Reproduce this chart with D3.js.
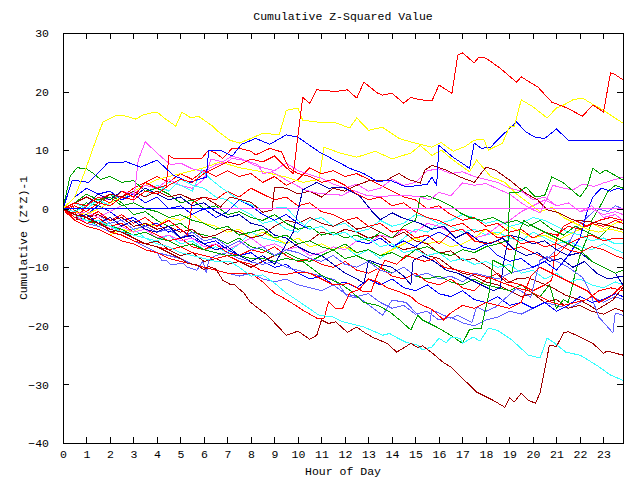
<!DOCTYPE html>
<html><head><meta charset="utf-8">
<script src="https://cdn.jsdelivr.net/npm/d3@7"></script>
<style>body{margin:0;background:#fff}svg{display:block}</style>
</head><body>
<svg id="c" width="640" height="480"></svg>
<script>
// ---------- data ----------
const hourTicks = d3.range(0, 24);
const valueTicks = [30, 20, 10, 0, -10, -20, -30, -40];
const hourMax = 23.83;

const redTop = [[0,0],[0.5,0.5],[1,-0.5],[1.5,1],[2,0.5],[2.5,2],[3,1.5],[3.5,3],[4,2.5],[4.5,4],[5,5],[5.5,4.5],[6,6],[6.5,7],[7,8],[7.5,7.5],[8,8.5],[8.5,8],[9,9],[9.5,7],[9.8,6],[10.2,19],[10.5,18],[10.8,20.3],[11.6,20],[12.1,20.3],[12.5,18.9],[12.8,21.6],[13.4,19.7],[13.6,19.4],[14,19.7],[14.5,18],[14.8,19],[15.2,18.6],[15.7,18.4],[16,21.1],[16.55,19.7],[16.8,26.2],[17,26.6],[17.5,24.9],[17.7,25.9],[18,25.7],[18.6,24],[19.3,21.6],[19.5,22.5],[20.2,20.8],[20.8,18.2],[21.45,17.2],[22.1,15.8],[22.55,17.7],[23,16.5],[23.3,23.2],[23.5,22.9],[23.83,22]];
const redLowA = [[0,0],[0.5,-1.5],[1,-2.5],[1.5,-2],[2,-4],[2.5,-4.5],[3,-5.5],[3.5,-6],[4,-6.5],[4.5,-7],[5,-6.5],[5.5,-7.5],[6,-8],[6.5,-8.5],[7,-8],[7.5,-9],[8,-9.5],[8.4,-10.5],[8.7,-10.8],[9.4,-11.3],[10,-10.8],[10.5,-11],[10.9,-11.8],[11.5,-13],[12.2,-12.8],[12.8,-14.2],[13.1,-14.2],[13.4,-11],[13.7,-8.8],[14.2,-9.5],[14.6,-8],[15,-8.5],[15.4,-9],[15.8,-8.5],[16.2,-10],[16.8,-10.5],[17.3,-11],[17.8,-11.5],[18.3,-12],[18.8,-12.8],[19.3,-13.5],[19.8,-14],[20.3,-15],[20.8,-16],[21.3,-16.5],[21.8,-16],[22.3,-15.5],[22.8,-14],[23.3,-13.5],[23.83,-14]];
const redLowB = [[0,0],[0.5,-2],[1,-3],[1.5,-3.5],[2,-4.5],[2.5,-5.5],[3,-6],[3.5,-7],[4,-7.5],[4.5,-8.5],[5,-9],[5.5,-9.5],[6,-10],[6.5,-10.5],[7,-11],[7.5,-11],[8,-11],[8.5,-12.5],[9,-14.4],[9.5,-15.5],[10.2,-17.3],[10.8,-18.7],[11.1,-18.8],[11.3,-15.9],[11.6,-17],[11.9,-17],[12.2,-14.4],[12.6,-13.8],[13,-12],[13.4,-12.5],[13.8,-13.5],[14.2,-14],[14.8,-15],[15.1,-16.1],[15.7,-17.2],[16.2,-19],[16.5,-17.8],[17,-16.5],[17.5,-17],[18,-16],[18.5,-16.5],[19,-17],[19.5,-16],[19.9,-11.5],[20.3,-10],[20.8,-11],[21.3,-12],[21.8,-13],[22.3,-14],[22.8,-16],[23.3,-15],[23.83,-13]];
const redMidA = [[0,0],[0.5,1],[1,0.5],[1.5,2],[2,1],[2.5,3],[3,2],[3.5,4.5],[4,3.5],[4.4,4],[4.5,9.1],[4.7,8.6],[5,8.5],[5.5,8.6],[5.9,8.6],[6.2,10],[6.5,9.5],[6.8,8.6],[7.2,10.3],[7.5,10.3],[8,9.8],[8.2,9.2],[8.8,10.3],[9.3,9.7],[9.6,7],[10,6],[10.5,5.5],[11,4.5],[11.5,5],[12,4],[12.5,2.5],[13,1.5],[13.5,2],[14,0.5],[14.5,1],[15,-0.5],[15.5,-1.5],[16,-2],[16.5,-3],[17,-2.5],[17.5,-4],[18,-3.5],[18.5,-5],[19,-4.5],[19.5,-6],[20,-5.5],[20.5,-6.5],[21,-6],[21.5,-7],[22,-7.5],[22.5,-6.5],[23,-7],[23.5,-8],[23.83,-8.5]];
const redMidB = [[0,0],[0.3,-0.8],[0.6,-0.5],[1,-1.5],[1.5,-0.5],[2,-2],[2.5,-1],[3,-2.5],[3.5,-1.5],[4,-3],[4.5,-2],[5,-3.5],[5.3,-4.5],[5.5,1],[6,2],[6.5,1.5],[7,3],[7.5,2],[8,3.5],[8.5,2.5],[9,1.5],[9.5,2],[10,0.5],[10.5,1],[11,-0.5],[11.5,-1],[12,-2],[12.5,-1.5],[13,-3],[13.5,-2.5],[14,-4],[14.5,-3.5],[15,-5],[15.5,-4.5],[16,-6],[16.5,-4],[17,-3.5],[17.5,-5.5],[18,-6],[18.5,-5.5],[19,-7],[19.5,-6.5],[20,-7.5],[20.5,-8.5],[21,-8],[21.5,-6],[22,-5],[22.5,-4.5],[23,-5.5],[23.5,-5],[23.83,-5]];
const redMidC = [[0,0],[0.5,-1],[1,-2],[1.5,-1.5],[2,-3],[2.5,-2.5],[3,-4],[3.5,-3.5],[4,-4.5],[4.5,-5.5],[5,-5],[5.5,-6.5],[6,-7],[6.5,-6],[7,-7.5],[7.5,-8],[8,-7],[8.5,-7.5],[9,-6.5],[9.5,-8],[10,-9],[10.5,-8.5],[11,-9.5],[11.5,-10],[12,-9],[12.5,-10.5],[13,-11],[13.5,-10],[14,-11.5],[14.5,-12],[15,-11],[15.5,-12.5],[16,-13],[16.5,-12],[17,-13.5],[17.5,-14],[18,-12],[18.5,-11],[19,-12.5],[19.5,-13],[20,-14],[20.5,-13],[20.8,-12.2],[21,-5],[21.3,-3],[21.8,-2],[22.3,-3],[22.8,-2],[23.3,-1.5],[23.83,-2]];
const redMidD = [[0,0],[0.2,-1],[0.4,0.5],[0.6,-1.5],[1,0.5],[1.5,1.5],[2,2.5],[2.5,2],[3,3.5],[3.5,4.5],[4,5.5],[4.5,4.5],[5,6],[5.5,5],[6,6.5],[6.5,5.5],[7,6.5],[7.5,5.5],[8,6],[8.5,4.5],[9,5.5],[9.5,4],[10,5],[10.5,7],[11,6],[11.5,6.5],[12,5.5],[12.5,6],[13,5],[13.5,4],[14,3],[14.5,2],[15,1.5],[15.5,0],[16,0.5],[16.5,-1],[17,-2],[17.5,-1.5],[18,-3],[18.5,-2.5],[19,-4],[19.5,-3.5],[20,-5],[20.5,-4],[21,-4.5],[21.5,-3],[22,-3.5],[22.5,-2.5],[23,-3],[23.5,-2],[23.83,-2.5]];

const yellowTop = [[0,0],[0.5,2],[0.9,6],[1.1,8.3],[1.4,11.7],[1.7,14.8],[2.3,16],[2.7,15.8],[3.1,15.3],[3.4,16],[3.7,16.3],[4,16.5],[4.3,15.5],[4.8,14.1],[5.06,16.5],[5.4,15.6],[5.8,15.7],[6.4,14],[6.6,13.2],[7.1,11.7],[7.5,11.2],[8,12],[8.5,12.9],[9.2,12.6],[9.5,16.8],[10,17.2],[10.2,15.1],[10.8,14.8],[11.5,14.8],[12.2,13.8],[12.5,15.5],[13,13.4],[13.6,13.9],[14.3,12],[14.8,11.4],[15.2,11],[15.7,10.5],[16.1,11.3],[16.6,9.8],[17.1,10.6],[17.5,11.7],[17.9,11.9],[18.1,10],[18.7,11.2],[19,14],[19.2,14],[19.5,18.6],[20,17.4],[20.6,15.5],[21,17.2],[21.3,17.7],[21.7,18.6],[22.1,18.9],[22.6,17.7],[23,16.8],[23.3,16],[23.83,14.6]];
const yellowMid = [[0,0],[1,-1],[2,1],[3,3],[4,5],[5,6],[6,7],[6.7,8],[7.5,7],[8.5,6.3],[9.5,5.4],[10.2,4.5],[10.9,5],[11.1,10.5],[11.8,9.5],[12.5,8.8],[13.3,9.8],[14,8.5],[14.8,9.5],[15.2,10.8],[15.7,9.1],[16.1,10],[16.6,8.3],[17.3,6.3],[17.6,8.3],[18.2,5.5],[18.8,4.5],[19.3,2.5],[19.8,1],[20.3,-0.5],[20.8,0.2],[21.3,-1.5],[21.8,-2.5],[22.3,-3.5],[22.8,-4],[23.3,-3.5],[23.83,-4]];
const yellowLow = [[0,0],[0.5,-2],[1,-3],[1.5,-3.5],[2,-4.5],[2.5,-3.5],[3,-4],[3.5,-2.5],[4,-3],[4.5,-1.5],[5,-2],[5.5,-1],[6,-2.5],[6.5,-3],[7,-4],[7.5,-3.5],[8,-5],[8.5,-4],[9,-5],[9.5,-6],[10,-5],[10.5,-6.5],[11,-6],[11.5,-7],[12,-6.5],[12.5,-7.5],[13,-7],[13.5,-8],[14,-7],[14.5,-6],[15,-5],[15.5,-6],[16,-5.5],[16.5,-6.5],[17,-6],[17.5,-5],[18,-3.5],[18.5,-4.5],[19,-3],[19.5,-4],[20,-5],[20.5,-4.5],[21,-5.5],[21.5,-4.5],[22,-3.5],[22.5,-2.5],[23,-3.5],[23.5,-2.5],[23.83,-2]];

const greenEarly = [[0,0],[0.3,5.5],[0.6,7],[1,6.8],[1.3,6],[1.6,5],[2,5.5],[2.5,4.5],[3,4.8],[3.5,3],[4,3.5],[4.5,2.5],[5,1],[5.5,1.5],[6,0],[6.5,0.5],[7,-1],[7.5,-0.5],[8,-1.5],[8.5,-2],[9,-1],[9.5,-2.5],[10,-3.5],[10.5,-3],[11,-4.5],[11.5,-4],[12,-5],[12.5,-4.5],[13,-5.5],[13.5,-4],[14,-5],[14.5,-3],[15,-2],[15.2,2],[15.5,2.2],[16,1.5],[16.5,0.5],[16.9,-0.7],[17.3,-1.5],[17.8,-2],[18.3,-1.5],[18.8,-2.5],[19.3,-2],[19.8,-3],[20.3,-2],[20.8,-3.5],[21.3,-4.5],[21.8,-3],[22.3,-4],[22.8,-5],[23.3,-3],[23.83,-3.5]];
const greenLow = [[0,0],[0.5,-1],[1,-2],[1.5,-2.5],[2,-3],[2.5,-3.5],[3,-4.5],[3.5,-4],[4,-5],[4.5,-5.5],[5,-6.5],[5.5,-6],[6,-7],[6.5,-7.5],[7,-8],[7.5,-8],[8,-8.5],[8.5,-8.5],[9,-9],[9.5,-8.5],[10.2,-9],[11,-11.4],[11.8,-12.8],[12.2,-13.9],[12.8,-16],[13.4,-16.5],[13.9,-17.6],[14.3,-18.9],[14.8,-20.7],[15.1,-18.2],[15.3,-19],[15.9,-20.2],[16.5,-21.6],[17,-23],[17.3,-20.6],[17.8,-20.4],[18.15,-14],[18.3,-8.8],[18.7,-9.6],[19.1,-11],[19.3,-6.5],[19.45,-3.6],[19.6,-2],[20,-3],[20.5,-4],[21,-5],[21.5,-6],[22,-7],[22.5,-9],[23,-10],[23.5,-11],[23.83,-10.5]];
const greenJump = [[0,0],[0.5,1],[1,2.5],[1.5,1.5],[2,2],[2.5,0.5],[3,1],[3.5,0],[4,-0.5],[4.5,-1.5],[5,-1],[5.5,-2],[6,-2.5],[6.5,-3.5],[7,-3],[7.5,-4.5],[8,-4],[8.5,-3.5],[9,-5],[9.5,-4.5],[10,-6],[10.5,-5.5],[11,-6.5],[11.5,-7],[12,-6],[12.5,-7.5],[13,-7],[13.5,-8],[14,-7.5],[14.5,-8.5],[15,-7],[15.5,-6.5],[16,-7.5],[16.5,-8],[17,-7],[17.5,-7.5],[18,-6.5],[18.5,-6],[18.95,-5.4],[19,2.8],[19.4,2.8],[19.7,3.7],[20.1,2],[20.5,2.3],[20.8,5.4],[21.3,4.4],[22,2],[22.3,3.7],[22.55,6.9],[22.85,6],[23.1,6.6],[23.83,4.9]];
const greenLate = [[0,0],[0.5,-0.5],[1,1],[1.5,0.5],[2,2.5],[2.5,1],[3,-1],[3.5,-0.5],[4,-2],[4.5,-3],[5,-2.5],[5.5,-4],[6,-4.5],[6.5,-5],[7,-6],[7.5,-5],[8,-6.5],[8.5,-7],[9,-8],[9.5,-7.5],[10,-8.5],[10.5,-9],[11,-8],[11.5,-7],[12,-8.5],[12.5,-8],[13,-9],[13.5,-10],[14,-11],[14.5,-10],[15,-11.5],[15.5,-12],[16,-11.5],[16.5,-12.5],[17,-13],[17.5,-12],[18,-13],[18.5,-13.5],[19,-14],[19.5,-13],[20,-14.5],[20.3,-15],[20.7,-13],[21,-17],[21.3,-15.5],[21.5,-16],[21.8,-11],[22,-8],[22.3,-5],[22.5,-2],[22.8,0],[23.2,3],[23.5,4],[23.83,3.5]];

const blueHigh = [[0,0],[0.4,4.9],[1.1,4.5],[1.9,7.8],[2.7,8],[3.3,7.1],[4,8.3],[4.7,5.7],[5.4,4.5],[6.1,5.4],[6.2,10],[6.7,10],[7.2,9],[7.6,11],[8.2,12],[8.8,11],[9.5,12.6],[10,12.2],[10.9,9.7],[12.2,6.9],[12.8,6],[13.4,4.6],[13.9,4.9],[14.6,3.7],[15.2,4],[15.5,4.2],[15.7,5.4],[15.9,4],[16,10.8],[16.6,8.8],[17.3,6.9],[17.5,11.2],[17.8,10.3],[18.2,10.5],[18.6,12.2],[19.3,14.8],[19.7,13.1],[20.1,12.2],[20.5,12],[21,13.6],[21.5,11.7],[23.83,11.7]];
const blueRise = [[0,0],[0.5,-1.5],[1,-1],[1.5,-2.5],[2,-1.5],[2.5,-3],[3,-2],[3.5,-3.5],[4,-4],[4.5,-3],[5,-5],[5.5,-4.5],[6,-6],[6.5,-7],[7,-6.5],[7.5,-8],[8,-9],[8.5,-8],[9,-9.5],[9.5,-6],[9.8,-4],[10.2,3.2],[10.8,4.5],[11.3,3.5],[11.9,3.7],[12.6,2.3],[13.2,-0.7],[13.5,-1.9],[14,-0.7],[14.4,-1.5],[15.2,-2.5],[15.7,-3.5],[16.2,-3],[16.7,-5],[17.2,-4],[17.7,-5.5],[18.2,-6],[18.7,-5],[19.2,-7],[19.7,-8],[20.2,-7.5],[20.7,-9],[21.2,-8.5],[21.7,-10],[22.2,-9],[22.7,-11],[23.2,-12],[23.83,-11.5]];
const blueDark = [[0,0],[0.5,1],[1,0.5],[1.5,2.5],[2,1.5],[2.5,3],[3,2],[3.5,3.5],[4,2.5],[4.5,1.5],[5,2],[5.5,0.5],[6,1],[6.5,-0.5],[7,-1.5],[7.5,-1],[8,-2.5],[8.5,-3],[9,-4.5],[9.5,-5],[10,-6.5],[10.5,-7.5],[11,-8],[11.5,-9.5],[12,-11],[12.5,-12],[12.8,-12.7],[12.9,-11],[13,-8.8],[13.5,-9.5],[14,-10],[14.5,-11.5],[14.8,-13],[14.9,-8.8],[15.3,-8],[15.8,-9],[16.3,-10.5],[16.8,-11],[17.3,-12],[17.8,-13],[18.3,-14],[18.6,-13.5],[18.8,-8],[19,-4.5],[19.5,-5],[20,-6],[20.5,-5.5],[21,-7],[21.5,-8],[22,-7.5],[22.5,-9],[23,-10],[23.5,-11],[23.83,-13]];
const blueMid = [[0,0],[0.5,2],[1,3.5],[1.5,2.5],[2,3],[2.5,1.5],[3,2.5],[3.5,1],[4,2],[4.5,0],[5,0.5],[5.5,-1],[6,0],[6.5,-1.5],[7,-0.5],[7.5,1.5],[8,0.5],[8.5,-1],[9,-2],[9.5,-1],[10,-2.5],[10.5,-3.5],[11,-3],[11.5,-4.5],[12,-4],[12.5,-5.5],[13,-6],[13.5,-5],[14,-6.5],[14.5,-5.5],[15,-6.5],[15.5,-5],[16,-4],[16.5,-5],[17,-6.5],[17.5,-7],[18,-6],[18.5,-8],[19,-9],[19.5,-8.5],[20,-10],[20.5,-9],[21,-10.5],[21.5,-8],[22,-5],[22.3,-0.5],[22.55,2],[22.9,3.5],[23.3,3],[23.6,3.5],[23.83,3.2]];
const blueLow = [[0,0],[0.5,-0.5],[1,-1],[1.5,0.5],[2,-0.5],[2.5,-2],[3,-1.5],[3.5,-3],[4,-2.5],[4.5,-4],[5,-3.5],[5.5,-5],[6,-6],[6.5,-5.5],[7,-7],[7.5,-8],[8,-7.5],[8.5,-9],[9,-10],[9.5,-9.5],[10,-11],[10.5,-12],[11,-11.5],[11.5,-13],[12,-12.5],[12.5,-13.5],[13,-12],[13.5,-13],[14,-12],[14.5,-13.5],[15,-14],[15.5,-13],[16,-14.5],[16.5,-15],[17,-14],[17.5,-15.5],[18,-16],[18.5,-15],[19,-16.5],[19.5,-16],[20,-17],[20.5,-16],[21,-17.5],[21.5,-16.5],[22,-15],[22.5,-16],[23,-15.5],[23.5,-14.5],[23.83,-15]];
const blueFlat = [[0,0],[6.5,0]];

const magentaFlat = [[0,0],[23.83,0]];
const magentaPeak = [[0,0],[0.5,-1],[1,-0.5],[1.5,-1.5],[2,-0.5],[2.5,0.5],[3,1],[3.2,8.3],[3.5,11.4],[4.25,8.6],[4.6,7.5],[5,7.8],[5.5,6.8],[6,6.3],[6.5,7.5],[7,8],[7.2,8.6],[7.8,8.2],[8.3,7.5],[8.5,6],[8.9,6.3],[9.5,4.9],[10.3,3.2],[10.9,2.6],[11.9,2.3],[12.3,3.2],[12.9,2.3],[13.6,2],[14,2.3],[14.6,2.3],[15.2,2],[15.6,1.5],[16,2.8],[16.5,2.2],[17,4.4],[17.5,4],[18,4.3],[18.6,3.2],[19,2.5],[19.5,1],[19.9,0],[20.3,-0.7],[20.5,1],[20.85,4],[21.3,3.5],[21.7,3.2],[22.1,4.2],[22.6,3.8],[23,4.4],[23.5,5],[23.83,5.4]];
const magentaHigh = [[0,0],[0.5,1],[1,0.5],[1.5,2],[2,1.5],[2.5,3],[3,2.5],[3.5,4],[4,3.5],[4.5,5],[5,4],[5.5,3.5],[6,5],[6.3,8.5],[6.8,8],[7.2,9],[7.6,8.5],[8.1,7.5],[8.5,7],[9,6.5],[9.5,7.8],[10,6.5],[10.5,5.8],[11,5.2],[11.5,4.2],[12,3.5],[12.5,4.2],[13,3],[13.5,3.5],[14,5],[14.5,4],[15,4.5],[15.5,6.5],[16,6.8],[16.5,6],[17,6.3],[17.5,5.5],[18,5],[18.5,4.5],[19,3.5],[19.5,3],[20,1.5],[20.5,2],[21,0.5],[21.5,1],[22,-0.5],[22.5,0],[23,-1],[23.5,-0.5],[23.83,-1]];
const magentaLow = [[0,0],[0.5,-1],[1,-2.5],[1.5,-2],[2,-3.5],[2.5,-3],[3,-4],[3.5,-3.5],[4,-5],[4.5,-4.5],[5,-5.5],[5.5,-5],[6,-6.5],[6.5,-6],[7,-7],[7.5,-6],[8,-5],[8.5,-6.5],[9,-6],[9.5,-7],[10,-6.5],[10.5,-8],[11,-7.5],[11.5,-6.5],[12,-7],[12.5,-5.5],[13,-6],[13.5,-4.5],[14,-5],[14.5,-3.5],[15,-4],[15.5,-2.5],[16,-3],[16.5,-4],[17,-3.5],[17.5,-5],[18,-4.5],[18.5,-3],[19,-2],[19.5,-0.5],[20,0.5],[20.5,1.5],[21,0.5],[21.5,1],[22,-0.5],[22.5,0.5],[23,-1.5],[23.5,-1],[23.83,-2]];

const cyanBottom = [[0,0],[0.5,-1],[1,-2],[1.5,-2],[2,-3],[2.5,-4],[3,-4.5],[3.5,-5],[4,-6],[4.5,-6.5],[5,-7.5],[5.5,-8],[6,-8.5],[6.5,-9],[7.1,-9],[7.5,-10],[8,-11.5],[8.5,-11.3],[9,-12.7],[9.5,-14.4],[10.1,-16],[10.9,-18.2],[11.5,-18.5],[11.9,-19.3],[12.8,-20.2],[13.1,-20.7],[13.6,-21.6],[13.9,-21.3],[14.2,-22],[14.6,-22.8],[15.1,-23.3],[15.3,-24.1],[15.7,-23.6],[16,-22.1],[16.3,-22.9],[16.5,-22],[16.9,-22.1],[17,-23],[17.45,-21.9],[17.75,-22.6],[18.1,-20.4],[18.5,-20.8],[19.1,-22.4],[19.8,-25],[20.3,-25.5],[20.6,-22.1],[20.9,-22.9],[21.4,-24.5],[22,-25],[22.7,-26.7],[23.3,-28.4],[23.83,-29.3]];
const cyanHigh = [[0,0],[0.5,-0.5],[1,0.5],[1.5,1.5],[2,0.5],[2.5,2],[3,1.5],[3.5,3],[4,2.5],[4.5,4.5],[5,4],[5.5,3],[5.9,6.6],[6.3,5],[6.7,3.7],[7.5,1.5],[8.4,0],[9.5,0.2],[10,-2],[10.5,-3.5],[11,-3],[11.5,-4.5],[12,-4],[12.5,-5.5],[13,-5],[13.5,-6.5],[14,-6],[14.5,-7.5],[15,-7],[15.5,-8],[16,-7.5],[16.5,-9],[17,-8.5],[17.5,-9.5],[18,-9],[18.5,-10],[19,-9.5],[19.5,-11],[20,-10.5],[20.5,-12],[21,-11],[21.5,-12.5],[22,-12],[22.5,-13],[23,-13.5],[23.5,-12.5],[23.83,-13]];
const cyanMidA = [[0,0],[0.5,-1.5],[1,-2],[1.5,-3],[2,-2.5],[2.5,-4],[3,-3.5],[3.5,-5],[4,-5.5],[4.5,-4.5],[5,-6],[5.5,-5.5],[6,-7],[6.5,-6.5],[7,-7.5],[7.5,-6],[8,-4],[8.5,-5],[9,-5.5],[9.5,-6],[10,-5],[10.5,-6.5],[11,-6],[11.5,-7],[12,-6.5],[12.5,-8],[13,-7],[13.5,-8.5],[14,-7],[14.5,-5],[15,-3.5],[15.5,-4],[16,-2.5],[16.5,-3],[17,-4],[17.5,-3.5],[18,-4.5],[18.5,-4],[19,-5],[19.5,-5.5],[20,-4],[20.5,-5],[21,-6],[21.5,-5.5],[22,-6.5],[22.5,-7],[23,-6],[23.5,-7],[23.83,-7.5]];
const cyanMidB = [[0,0],[0.5,1],[1,0],[1.5,1.5],[2,2.5],[2.5,1.5],[3,3],[3.5,2],[4,4],[4.5,3],[5,5],[5.5,4],[6,3.5],[6.5,2],[7,1.5],[7.5,0],[8,-1],[8.5,-2.5],[9,-2],[9.5,-3.5],[10,-4],[10.5,-2],[11,-1.5],[11.5,-3],[12,-2.5],[12.5,-4],[13,-3.5],[13.5,-2],[14,-3],[14.5,-2.5],[15,-1],[15.5,-1.5],[16,-2.5],[16.5,-2],[17,-1],[17.5,-1.5],[18,-2.5],[18.5,-2],[19,-3],[19.5,-2.5],[20,-1.5],[20.5,-2],[21,-3],[21.5,-4],[22,-4.5],[22.5,-5.5],[23,-5],[23.5,-6],[23.83,-6]];

const darkRedBottom = [[0,0],[0.5,-1],[1,-1.5],[1.5,-2.5],[2,-3.5],[2.5,-4],[3,-5],[3.5,-6],[4,-6.5],[4.5,-7.5],[5,-8.5],[5.3,-9.3],[5.7,-9.6],[6,-10.4],[6.2,-9.9],[6.5,-10.3],[6.8,-12.2],[7.1,-12.9],[7.3,-13],[7.7,-14.4],[7.96,-15.9],[8.4,-17.3],[8.7,-18.2],[9.5,-21.6],[10,-20.9],[10.5,-22.3],[10.8,-21.6],[11,-19],[11.3,-19.6],[11.6,-19.3],[12.1,-21.1],[12.5,-20.2],[12.85,-21.2],[13.2,-22],[13.8,-23],[14.2,-24.5],[14.8,-23],[15.1,-23.7],[15.3,-23.4],[15.7,-24.6],[16.2,-26.3],[16.5,-27],[17.6,-31.3],[18.3,-32.7],[18.8,-33.9],[19,-32.3],[19.2,-33],[19.5,-31.5],[19.8,-32.7],[20.1,-33.2],[20.3,-31.5],[20.7,-23.3],[21,-23.5],[21.3,-21.2],[21.5,-21],[21.9,-21.7],[22.55,-23],[23,-24.7],[23.15,-24.3],[23.83,-25]];
const darkRedHigh = [[0,0],[0.5,1],[1,2],[1.5,1],[2,2.5],[2.5,2],[3,3],[3.5,2],[4,3],[4.5,2],[5,2.5],[5.5,1.5],[6,2],[6.7,0.3],[7.1,2],[7.6,1.5],[8,1.1],[8.5,-0.6],[8.9,-0.2],[9,3.7],[9.5,3.5],[10,2.5],[10.5,3],[11,2],[11.5,3.5],[12,3],[12.5,4],[13.1,4.9],[13.8,4.9],[14,5.4],[14.3,6],[14.7,5],[15.2,4.4],[15.4,6.6],[15.7,7.4],[16.3,6.6],[16.9,5.4],[17.5,4.5],[18,7.1],[18.4,6.6],[19,4.9],[19.7,2.6],[20.2,1.5],[20.6,-0.2],[21.1,-0.7],[21.7,-1.9],[22.55,-2.3],[23.15,-2.8],[23.83,-3.6]];
const darkRedMid = [[0,0],[0.5,-0.5],[1,-1.5],[1.5,-1],[2,-2],[2.5,-1.5],[3,-3],[3.5,-2.5],[4,-3.5],[4.5,-3],[5,-4],[5.5,-3.5],[6,-5],[6.5,-4.5],[7,-3.5],[7.5,-4],[8,-5],[8.5,-4.5],[9,-3],[9.5,-2],[10,-2.5],[10.5,-1.5],[11,-2.5],[11.5,-3],[12,-2],[12.5,-3.5],[13,-3],[13.5,-4],[14,-5],[14.5,-4],[15,-5.5],[15.5,-6],[16,-7.6],[16.5,-7.2],[17,-8.8],[17.5,-8.5],[18.3,-10.5],[18.9,-12.7],[19.3,-12],[19.8,-11.8],[20.8,-13.4],[21.4,-14.8],[22,-15.6],[22.4,-16.5],[22.7,-17.3],[23.4,-15.6],[23.83,-13.4]];
const darkRedLow = [[0,0],[0.5,-2],[1,-1.5],[1.5,-3],[2,-4],[2.5,-3.5],[3,-5],[3.5,-6],[4,-5.5],[4.5,-7],[5,-8],[5.5,-7.5],[6,-9],[6.5,-8.5],[7,-9.5],[7.5,-9],[8,-10],[8.5,-9],[9,-8],[9.5,-7],[10,-6],[10.5,-5.5],[11,-4],[11.5,-4.5],[12,-3.5],[12.5,-4],[13,-5],[13.5,-4.5],[14,-6],[14.5,-7],[15,-6.5],[15.5,-8],[16,-8.5],[16.5,-10],[17,-11],[17.5,-11.5],[18,-12.5],[18.5,-13],[19,-14],[19.5,-15],[20,-14.5],[20.5,-16],[21,-15.5],[21.5,-17],[22,-16.5],[22.5,-17.5],[23,-18],[23.5,-17],[23.83,-17.5]];

const lightBlueA = [[0,0],[0.5,-1.5],[1,-2.5],[1.5,-3],[2,-4],[2.5,-4.5],[3,-5.5],[3.5,-6.5],[4,-7.5],[4.2,-8.8],[4.4,-8.8],[4.6,-9.6],[5.1,-9.3],[5.3,-10],[5.7,-10.5],[5.95,-9],[6.1,-11],[6.2,-8.8],[6.5,-8],[7,-7.5],[7.5,-8.5],[8,-9.1],[8.5,-9.5],[9,-9],[9.5,-10],[10,-10.5],[10.5,-11],[11,-11.5],[11.6,-12.2],[12.1,-15],[12.6,-15.2],[13.6,-18.2],[14,-15.6],[14.6,-16],[15.3,-19],[15.6,-19.6],[15.7,-17.3],[16.5,-18.7],[16.8,-18.2],[17.4,-19.4],[17.6,-16.8],[18,-17.5],[18.4,-16.8],[19.3,-13.6],[19.9,-15.1],[20.3,-8.8],[20.6,-8.2],[21,-9],[21.5,-10],[22.1,-11.7],[22.4,-14],[22.8,-18.5],[23.4,-21.2],[23.5,-17.8],[23.83,-18.2]];
const lightBlueB = [[0,0],[0.5,-2],[1,-3],[1.5,-3.5],[2,-4.5],[2.5,-5.5],[3,-6],[3.5,-7],[4,-7.5],[4.5,-8],[5,-8.5],[5.5,-9.5],[6,-10],[6.5,-10.5],[7,-11],[7.5,-11.5],[8,-11],[8.5,-12],[9,-12.5],[9.5,-12],[10,-13],[10.5,-13.5],[11,-14],[11.5,-13],[12,-14.5],[12.5,-15],[13,-14.5],[13.5,-16],[14,-17],[14.5,-16.5],[15,-18],[15.5,-17.5],[16,-19],[16.5,-18.5],[17,-19.5],[17.5,-20],[18,-19],[18.5,-18.5],[19,-17.5],[19.5,-18],[20,-17],[20.5,-16],[21,-16.5],[21.5,-17],[22,-16],[22.5,-15],[23,-16],[23.5,-15],[23.83,-15.5]];
const lightBlueC = [[0,0],[0.5,-1],[1,-1.5],[1.5,-1],[2,-2.5],[2.5,-2],[3,-3.5],[3.5,-3],[4,-4],[4.5,-3.5],[5,-5],[5.5,-4],[6,-5.5],[6.5,-5],[7,-6.5],[7.5,-5.5],[8,-7],[8.5,-6.5],[9,-8],[9.5,-7],[10,-7.5],[10.5,-8.5],[11,-9],[11.5,-8],[12,-9.5],[12.5,-10],[13,-9],[13.5,-10.5],[14,-11],[14.5,-10],[15,-11.5],[15.5,-11],[16,-12],[16.5,-11.5],[17,-12.5],[17.5,-11],[18,-11.5],[18.5,-12],[19,-11],[19.5,-10.5],[20,-10],[20.5,-9],[21,-7],[21.5,-6],[21.9,-3],[22.3,-1.5],[22.7,0],[23.2,-0.5],[23.5,0.5],[23.83,0]];

// ---------- drawing order and colours ----------
const RED = "#ff0000", GREEN = "#00a000", BLUE = "#0000ff", MAGENTA = "#ff55ff",
      CYAN = "#33ffff", DARKRED = "#a00000", YELLOW = "#ffff00", LIGHTBLUE = "#5f5fff", NAVY = "#0000b0";

const series = [
  [lightBlueB, LIGHTBLUE], [darkRedLow, DARKRED], [cyanMidA, CYAN], [greenLate, GREEN],
  [blueLow, BLUE], [yellowLow, YELLOW], [redMidC, RED], [magentaLow, MAGENTA],
  [lightBlueC, LIGHTBLUE], [cyanMidB, CYAN], [darkRedMid, DARKRED], [redMidD, RED],
  [greenEarly, GREEN], [blueMid, BLUE], [yellowMid, YELLOW], [magentaHigh, MAGENTA],
  [redMidB, RED], [cyanHigh, CYAN], [lightBlueA, LIGHTBLUE], [blueDark, NAVY],
  [greenLow, GREEN], [redLowB, RED], [darkRedHigh, DARKRED], [magentaPeak, MAGENTA],
  [blueRise, NAVY], [greenJump, GREEN], [redLowA, RED], [redMidA, RED],
  [cyanBottom, CYAN], [darkRedBottom, DARKRED], [blueHigh, BLUE], [yellowTop, YELLOW],
  [redTop, RED], [magentaFlat, MAGENTA], [blueFlat, BLUE]
];

// ---------- layout ----------
const L = 63, R = 623, T = 33, B = 443;
const FONT = "'Liberation Mono', 'DejaVu Sans Mono', monospace";
const FS = 11.5;
const svg = d3.select("#c");
const x = d3.scaleLinear().domain([0, hourMax]).range([L, R]);
const y = d3.scaleLinear().domain([-40, 30]).range([B, T]);

svg.append("clipPath").attr("id", "pa").append("rect")
  .attr("x", L).attr("y", T).attr("width", R - L).attr("height", B - T);

const line = d3.line().x(d => x(d[0])).y(d => y(d[1]));
const g = svg.append("g").attr("clip-path", "url(#pa)");
series.forEach(([data, color]) => {
  g.append("path").attr("d", line(data)).attr("fill", "none")
    .attr("stroke", color).attr("stroke-width", 1)
    .attr("shape-rendering", "crispEdges");
});

// axes (box with inward ticks)
function styleAxis(sel) {
  sel.selectAll("path.domain").attr("stroke", "#000").attr("shape-rendering", "crispEdges");
  sel.selectAll(".tick line").attr("stroke", "#000").attr("shape-rendering", "crispEdges");
  sel.selectAll("text").attr("font-family", FONT).attr("font-size", FS).attr("fill", "#000");
}
svg.append("g").attr("transform", `translate(0,${B})`)
  .call(d3.axisBottom(x).tickValues(hourTicks).tickSizeInner(-6).tickSizeOuter(0).tickPadding(7).tickFormat(d3.format("d")))
  .call(styleAxis);
svg.append("g").attr("transform", `translate(0,${T})`)
  .call(d3.axisTop(x).tickValues(hourTicks).tickSizeInner(-6).tickSizeOuter(0).tickFormat(""))
  .call(styleAxis);
svg.append("g").attr("transform", `translate(${L},0)`)
  .call(d3.axisLeft(y).tickValues(valueTicks).tickSizeInner(-6).tickSizeOuter(0).tickPadding(14).tickFormat(d3.format("d")))
  .call(styleAxis);
svg.append("g").attr("transform", `translate(${R},0)`)
  .call(d3.axisRight(y).tickValues(valueTicks).tickSizeInner(-6).tickSizeOuter(0).tickFormat(""))
  .call(styleAxis);

// titles
svg.append("text").attr("x", (L + R) / 2).attr("y", 20).attr("text-anchor", "middle")
  .attr("font-family", FONT).attr("font-size", FS).text("Cumulative Z-Squared Value");
svg.append("text").attr("x", (L + R) / 2).attr("y", 475).attr("text-anchor", "middle")
  .attr("font-family", FONT).attr("font-size", FS).text("Hour of Day");
svg.append("text").attr("transform", `translate(27,${(T + B) / 2}) rotate(-90)`).attr("text-anchor", "middle")
  .attr("font-family", FONT).attr("font-size", FS).text("Cumulative (Z*Z)-1");
</script>
</body></html>
